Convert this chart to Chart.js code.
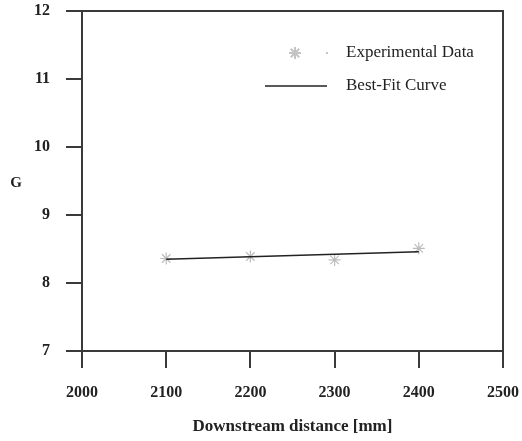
<!DOCTYPE html>
<html>
<head>
<meta charset="utf-8">
<script src="https://cdn.jsdelivr.net/npm/chart.js@4.4.0/dist/chart.umd.min.js"></script>
<style>
  html, body { margin: 0; padding: 0; background: #fff; }
  #wrap { width: 522px; height: 441px; position: relative; }
</style>
</head>
<body>
<div id="wrap"><canvas id="gChart"></canvas></div>
<script>
// data
const distances = [2100, 2200, 2300, 2400];
const measuredG = [8.36, 8.39, 8.34, 8.51];
const fitX = [2100, 2400];
const fitG = [8.35, 8.46];
const xTicks = [2000, 2100, 2200, 2300, 2400, 2500];
const yTicks = [7, 8, 9, 10, 11, 12];

const serif = "'Liberation Serif', 'DejaVu Serif', serif";
const axisColor = '#3a3a3a';

// frame, legend and the upright "G" label
const extras = {
    id: 'extras',
    afterDraw(chart) {
        const ctx = chart.ctx;
        const a = chart.chartArea;
        ctx.save();
        ctx.strokeStyle = axisColor;
        ctx.lineWidth = 2;
        ctx.beginPath();
        ctx.moveTo(a.left, a.top);
        ctx.lineTo(a.right, a.top);
        ctx.lineTo(a.right, a.bottom);
        ctx.stroke();

        // legend
        ctx.strokeStyle = '#c4c4c4';
        ctx.fillStyle = '#c4c4c4';
        Chart.helpers.drawPoint(ctx, {
            pointStyle: 'star', radius: 6, borderWidth: 1.2, rotation: 0
        }, 295, 53);
        ctx.fillRect(326, 52, 2, 2);
        ctx.strokeStyle = '#222';
        ctx.lineWidth = 1.5;
        ctx.beginPath();
        ctx.moveTo(265, 86);
        ctx.lineTo(327, 86);
        ctx.stroke();

        ctx.fillStyle = '#222';
        ctx.font = '17px ' + serif;
        ctx.textBaseline = 'middle';
        ctx.textAlign = 'left';
        ctx.fillText('Experimental Data', 346, 53);
        ctx.fillText('Best-Fit Curve', 346, 86);

        ctx.font = 'bold 15px ' + serif;
        ctx.textAlign = 'center';
        ctx.fillText('G', 16, 183);
        ctx.restore();
    }
};

new Chart(document.getElementById('gChart'), {
    type: 'scatter',
    data: {
        datasets: [
            {
                label: 'Experimental Data',
                data: distances.map((d, i) => ({ x: d, y: measuredG[i] })),
                pointStyle: 'star',
                pointRadius: 6,
                borderColor: '#bdbdbd',
                backgroundColor: '#bdbdbd',
                pointBorderWidth: 1.2,
                showLine: false,
                order: 2
            },
            {
                label: 'Best-Fit Curve',
                data: fitX.map((d, i) => ({ x: d, y: fitG[i] })),
                showLine: true,
                borderColor: '#222',
                borderWidth: 1.6,
                pointRadius: 0,
                order: 1
            }
        ]
    },
    options: {
        responsive: true,
        maintainAspectRatio: false,
        animation: false,
        layout: { padding: { top: 11, right: 19, left: 0, bottom: 0 } },
        plugins: {
            legend: { display: false },
            tooltip: { enabled: false }
        },
        scales: {
            x: {
                type: 'linear',
                min: 2000,
                max: 2500,
                afterFit: function(scale) {
                    scale.height = 90;
                    scale.paddingLeft = 0;
                    scale.paddingRight = 0;
                },
                afterBuildTicks: function(scale) {
                    scale.ticks = xTicks.map(v => ({ value: v }));
                },
                grid: {
                    drawOnChartArea: false,
                    drawTicks: true,
                    tickLength: 17,
                    color: axisColor,
                    lineWidth: 2
                },
                border: { display: true, color: axisColor, width: 2 },
                ticks: {
                    padding: 15,
                    color: '#222',
                    callback: function(value) { return String(value); },
                    font: { family: serif, size: 16, weight: 'bold' }
                },
                title: {
                    display: true,
                    text: 'Downstream distance [mm]',
                    color: '#222',
                    font: { family: serif, size: 17, weight: 'bold' },
                    padding: { top: 10 }
                }
            },
            y: {
                min: 7,
                max: 12,
                afterFit: function(scale) {
                    scale.width = 82;
                    scale.paddingTop = 0;
                    scale.paddingBottom = 0;
                },
                afterBuildTicks: function(scale) {
                    scale.ticks = yTicks.map(v => ({ value: v }));
                },
                grid: {
                    drawOnChartArea: false,
                    drawTicks: true,
                    tickLength: 16,
                    color: axisColor,
                    lineWidth: 2
                },
                border: { display: true, color: axisColor, width: 2 },
                ticks: {
                    padding: 16,
                    color: '#222',
                    callback: function(value) { return String(value); },
                    font: { family: serif, size: 16, weight: 'bold' }
                }
            }
        }
    },
    plugins: [extras]
});
</script>
</body>
</html>
